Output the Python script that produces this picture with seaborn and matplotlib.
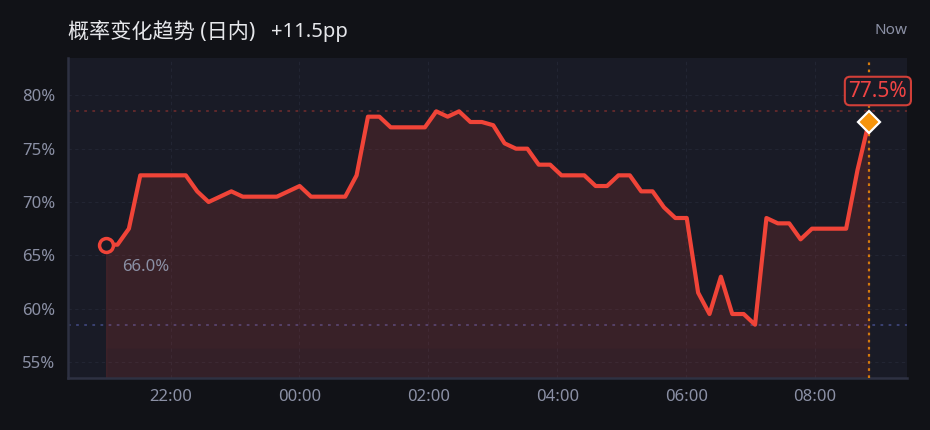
import numpy as np
import pandas as pd
import matplotlib
matplotlib.use("Agg")
import matplotlib.pyplot as plt
import matplotlib.dates as mdates
import seaborn as sns

# dados (probabilidade em %)
start_time = "2024-01-01 21:00"
now_time = "2024-01-02 08:50"
prob = [66.0, 66.0, 67.5, 72.5, 72.5, 72.5, 72.5, 72.5, 71.0, 70.0,
        70.5, 71.0, 70.5, 70.5, 70.5, 70.5, 71.0, 71.5, 70.5, 70.5,
        70.5, 70.5, 72.5, 78.0, 78.0, 77.0, 77.0, 77.0, 77.0, 78.5,
        78.0, 78.5, 77.5, 77.5, 77.2, 75.5, 75.0, 75.0, 73.5, 73.5,
        72.5, 72.5, 72.5, 71.5, 71.5, 72.5, 72.5, 71.0, 71.0, 69.5,
        68.5, 68.5, 61.5, 59.5, 63.0, 59.5, 59.5, 58.5, 68.5, 68.0,
        68.0, 66.5, 67.5, 67.5, 67.5, 67.5, 73.0, 77.5]
y_ticks = [55, 60, 65, 70, 75, 80]
tick_hours = [22, 0, 2, 4, 6, 8]
titulo = "概率变化趋势 (日内)"
variacao = "+11.5pp"

times = pd.date_range(start_time, now_time, periods=len(prob))
df = pd.DataFrame({"time": times, "prob": prob})

bg = "#111217"
panel = "#191b26"
red = "#f04438"
grey = "#8b90a5"

sns.set_theme(style="dark")
plt.rcParams["font.family"] = ["Noto Sans", "Noto Sans CJK SC", "DejaVu Sans"]

fig = plt.figure(figsize=(9.3, 4.3), dpi=100, facecolor=bg)
ax = fig.add_axes([0.0731, 0.1209, 0.9022, 0.7442])
ax.set_facecolor(panel)

y_min = min(prob) - 5
y_max = max(prob) + 5

# area sob a curva
ax.fill_between(df["time"], df["prob"], y_min, color=red, alpha=0.13,
                linewidth=0.8, edgecolor=(0.94, 0.27, 0.22, 0.25), zorder=2)
ax.fill_between(df["time"], df["prob"], y_min + 2.8, color=red, alpha=0.03,
                linewidth=0, zorder=2)

sns.lineplot(data=df, x="time", y="prob", ax=ax, color=red, linewidth=3,
             zorder=4)

# linhas de max / min / agora
ax.axhline(max(prob), color=red, alpha=0.35, linestyle=(0, (1.5, 3)),
           linewidth=1.3, zorder=1)
ax.axhline(min(prob), color="#3d4478", linestyle=(0, (1.5, 3)),
           linewidth=1.3, zorder=1)
ax.axvline(times[-1], color="#d57a0c", linestyle=(0, (1.2, 2)),
           linewidth=1.6, zorder=3)

# marcadores inicio / fim
ax.plot(times[0], prob[0], "o", markersize=10, markerfacecolor=panel,
        markeredgecolor=red, markeredgewidth=2.5, zorder=5)
ax.plot(times[-1], prob[-1], "D", markersize=11, markerfacecolor="#f5940c",
        markeredgecolor="white", markeredgewidth=1.6, zorder=6)

ax.annotate(f"{prob[0]:.1f}%", xy=(times[0], prob[0]),
            xytext=(16, -22), textcoords="offset pixels",
            ha="left", va="center", fontsize=12, color=grey)
ax.annotate(f"{prob[-1]:.1f}%", xy=(times[-1], prob[-1]),
            xytext=(9, 31), textcoords="offset pixels",
            ha="center", va="center", fontsize=15, color="#ef4444",
            bbox=dict(boxstyle="round,pad=0.18,rounding_size=0.25",
                      facecolor=panel, edgecolor="#d13f38", linewidth=1.5),
            zorder=7, annotation_clip=False)

ax.set_ylim(y_min, y_max)
ax.set_yticks(y_ticks)
ax.set_yticklabels([f"{v}%" for v in y_ticks])
ax.xaxis.set_major_locator(mdates.HourLocator(byhour=tick_hours))
ax.xaxis.set_major_formatter(mdates.DateFormatter("%H:%M"))
ax.set_xlabel("")
ax.set_ylabel("")

ax.grid(True, color="#222533", linestyle=(0, (3, 3)), linewidth=0.8)
ax.set_axisbelow(True)
ax.tick_params(axis="both", length=0, labelsize=12, labelcolor=grey)
ax.tick_params(axis="y", pad=9)
ax.tick_params(axis="x", pad=8)

for s in ["top", "right"]:
    ax.spines[s].set_visible(False)
for s in ["left", "bottom"]:
    ax.spines[s].set_visible(True)
    ax.spines[s].set_color("#2e3142")
    ax.spines[s].set_linewidth(1.8)

fig.text(68 / 930, 1 - 32 / 430, titulo, fontsize=15.2,
         color="#e6e7eb", ha="left", va="center")
fig.text(271 / 930, 1 - 32 / 430, variacao, fontsize=14.5,
         color="#e6e7eb", ha="left", va="center")
fig.text(907 / 930, 1 - 30 / 430, "Now", fontsize=11, color=grey,
         ha="right", va="center")

fig.savefig("out.png", dpi=100, facecolor=bg)
